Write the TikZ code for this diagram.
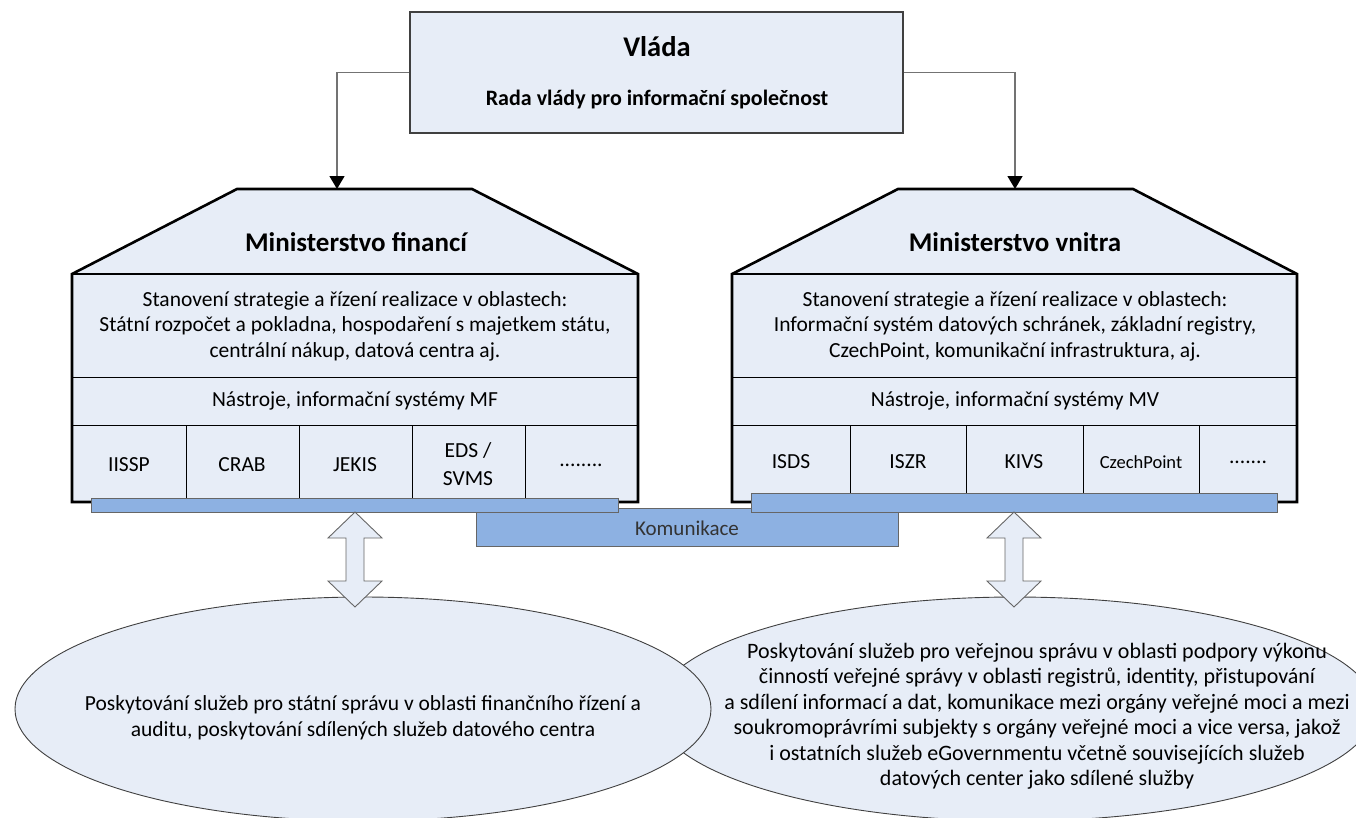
\documentclass[tikz,border=0pt]{standalone}
\usepackage{fontspec}
\setmainfont{Carlito}
\usetikzlibrary{arrows.meta}
\definecolor{boxfill}{RGB}{231,237,247}
\definecolor{barfill}{RGB}{141,177,226}
\begin{document}
\begin{tikzpicture}[x=1pt,y=-1pt,
  vbox/.style={draw=black!75, line width=1.2pt, fill=boxfill, inner sep=0pt},
  txt/.style={inner sep=0pt, align=center, font=\fontsize{21.5}{25.5}\selectfont},
  ttl/.style={inner sep=0pt, align=center, font=\fontsize{27}{30}\selectfont\bfseries},
  celltxt/.style={inner sep=0pt, align=center, font=\fontsize{21.5}{28}\selectfont},
  bar/.style={draw=black!60, line width=0.9pt, fill=barfill},
  house/.style={draw=black, line width=2.6pt, fill=boxfill, line join=miter},
  thinline/.style={draw=black, line width=1pt},
  dbl/.style={draw=black!60, line width=0.9pt, fill=boxfill, line join=miter},
  ell/.style={draw=black!75, line width=0.9pt, fill=boxfill},
  conn/.style={draw=black!55, line width=1.4pt, -{Triangle[length=13pt,width=15pt,color=black]}}
]
\useasboundingbox (0,0) rectangle (1356,817);

% ---- Vlada ----
\node[vbox, minimum width=493pt, minimum height=121pt] (vlada) at (656.5,72.5) {};
\node[ttl, font=\fontsize{28.5}{32}\selectfont\bfseries] (vt) at (657,47) {Vláda};
\node[txt, font=\fontsize{22}{26}\selectfont\bfseries] (vs) at (657,100) {Rada vlády pro informační společnost};

% ---- ellipses ----
\draw[ell] (1015,709) ellipse [x radius=360pt, y radius=112pt];
\draw[ell] (363,709) ellipse [x radius=348pt, y radius=112pt];
\node[txt, font=\fontsize{21.5}{26}\selectfont] (e1) at (363,718) {Poskytování služeb pro státní správu v oblasti finančního řízení a\\auditu, poskytování sdílených služeb datového centra};
\node[txt, font=\fontsize{22}{25.5}\selectfont] (e2) at (1037,716) {Poskytování služeb pro veřejnou správu v oblasti podpory výkonu\\činností veřejné správy v oblasti registrů, identity, přistupování\\a sdílení informací a dat, komunikace mezi orgány veřejné moci a mezi\\soukromoprávrími subjekty s orgány veřejné moci a vice versa, jakož\\i ostatních služeb eGovernmentu včetně souvisejících služeb\\datových center jako sdílené služby};

% ---- Komunikace bar ----
\node[bar, minimum width=422pt, minimum height=38pt, inner sep=0pt] (kom) at (687,527) {};

% ---- left house ----
\draw[house] (72,274) -- (237,189) -- (472,189) -- (638,274) -- (638,502) -- (72,502) -- cycle;
\draw[house] (72,274) -- (638,274);
\draw[thinline] (72,377) -- (638,377);
\draw[thinline] (72,425) -- (638,425);
\foreach \x in {186,299,412,525} \draw[thinline] (\x,425) -- (\x,502);
\node[ttl] (mft) at (356,242) {Ministerstvo financí};
\node[txt] (mfs) at (355,326) {Stanovení strategie a řízení realizace v oblastech:\\Státní rozpočet a pokladna, hospodaření s majetkem státu,\\centrální nákup, datová centra aj.};
\node[txt] (mfn) at (355,401) {Nástroje, informační systémy MF};
\node[celltxt] (c1) at (129,465) {IISSP};
\node[celltxt] (c2) at (242,465) {CRAB};
\node[celltxt] (c3) at (355,465) {JEKIS};
\node[celltxt] (c4) at (468,464) {EDS /\\SVMS};
\node[celltxt] (c5) at (581,465) {........};

% ---- right house ----
\draw[house] (732,274) -- (898,189) -- (1133,189) -- (1297,274) -- (1297,502) -- (732,502) -- cycle;
\draw[house] (732,274) -- (1297,274);
\draw[thinline] (732,377) -- (1297,377);
\draw[thinline] (732,425) -- (1297,425);
\foreach \x in {850,966,1083,1199} \draw[thinline] (\x,425) -- (\x,502);
\node[ttl] (mvt) at (1015,242) {Ministerstvo vnitra};
\node[txt] (mvs) at (1015,326) {Stanovení strategie a řízení realizace v oblastech:\\Informační systém datových schránek, základní registry,\\CzechPoint, komunikační infrastruktura, aj.};
\node[txt] (mvn) at (1015,401) {Nástroje, informační systémy MV};
\node[celltxt] (d1) at (791,462) {ISDS};
\node[celltxt] (d2) at (908,462) {ISZR};
\node[celltxt] (d3) at (1024,462) {KIVS};
\node[celltxt, font=\fontsize{18.5}{22}\selectfont] (d4) at (1141,462) {CzechPoint};
\node[celltxt] (d5) at (1248,462) {.......};

% ---- blue bars ----
\node[bar, minimum width=527pt, minimum height=14pt, inner sep=0pt] (barl) at (354.5,505) {};
\node[bar, minimum width=526pt, minimum height=19pt, inner sep=0pt] (barr) at (1014,502.5) {};
\node[txt, font=\fontsize{21}{24}\selectfont, text=black!80] (komt) at (687,528) {Komunikace};

% ---- connectors ----
\coordinate (mfroof) at (337,189);
\coordinate (mvroof) at (1015,189);
\draw[conn] (vlada.west) -| (mfroof);
\draw[conn] (vlada.east) -| (mvroof);

% ---- double arrows ----
\coordinate (da1) at (355,512);
\coordinate (da2) at (1014,512);
\foreach \c in {da1,da2}{
  \draw[dbl] (\c) -- ++(27,26) -- ++(-18,0) -- ++(0,43) -- ++(18,0) -- ++(-27,26) -- ++(-27,-26) -- ++(18,0) -- ++(0,-43) -- ++(-18,0) -- cycle;
}
\end{tikzpicture}
\end{document}
